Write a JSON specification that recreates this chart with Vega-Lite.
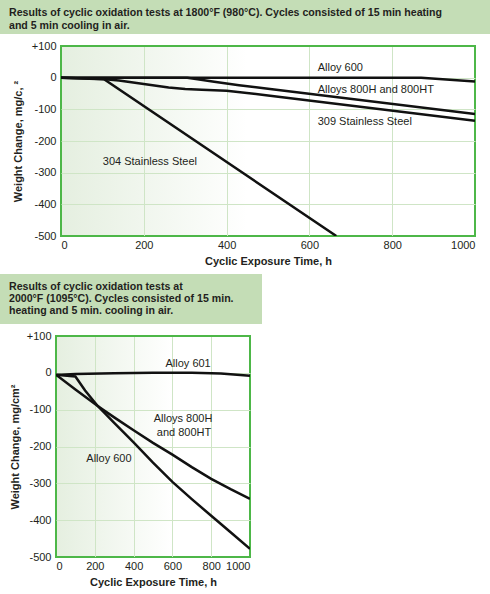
{
  "$schema": "https://vega.github.io/schema/vega-lite/v6.json",
  "padding": 0,
  "background": "#ffffff",
  "spacing": 7,
  "config": {
    "font": "Liberation Sans",
    "view": {"stroke": null},
    "axis": {
      "labelFont": "Liberation Sans",
      "labelFontSize": 11,
      "labelColor": "#231f20",
      "labelOverlap": false,
      "titleFont": "Liberation Sans",
      "titleFontSize": 11,
      "titleFontWeight": "bold",
      "titleColor": "#231f20",
      "gridColor": "#cfe5c6",
      "gridWidth": 1,
      "ticks": false,
      "domain": false
    },
    "title": {"font": "Liberation Sans", "fontSize": 10.6, "fontWeight": "bold", "color": "#231f20"}
  },
  "datasets": {
    "lines1": [
      {"series": "Alloy 600", "t": 0, "w": 0},
      {"series": "Alloy 600", "t": 870, "w": 0},
      {"series": "Alloy 600", "t": 1000, "w": -12},
      {"series": "Alloys 800H and 800HT", "t": 0, "w": 0},
      {"series": "Alloys 800H and 800HT", "t": 305, "w": 0},
      {"series": "Alloys 800H and 800HT", "t": 330, "w": -5},
      {"series": "Alloys 800H and 800HT", "t": 370, "w": -13},
      {"series": "Alloys 800H and 800HT", "t": 430, "w": -24},
      {"series": "Alloys 800H and 800HT", "t": 500, "w": -35},
      {"series": "Alloys 800H and 800HT", "t": 1000, "w": -115},
      {"series": "309 Stainless Steel", "t": 0, "w": 0},
      {"series": "309 Stainless Steel", "t": 100, "w": -4},
      {"series": "309 Stainless Steel", "t": 140, "w": -9},
      {"series": "309 Stainless Steel", "t": 200, "w": -20},
      {"series": "309 Stainless Steel", "t": 260, "w": -31},
      {"series": "309 Stainless Steel", "t": 300, "w": -36},
      {"series": "309 Stainless Steel", "t": 340, "w": -38},
      {"series": "309 Stainless Steel", "t": 400, "w": -41},
      {"series": "309 Stainless Steel", "t": 500, "w": -56},
      {"series": "309 Stainless Steel", "t": 1000, "w": -136},
      {"series": "304 Stainless Steel", "t": 0, "w": 0},
      {"series": "304 Stainless Steel", "t": 104, "w": -5},
      {"series": "304 Stainless Steel", "t": 665, "w": -500}
    ],
    "labels1": [
      {"label": "Alloy 600", "t": 620, "w": 31},
      {"label": "Alloys 800H and 800HT", "t": 620, "w": -39},
      {"label": "309 Stainless Steel", "t": 620, "w": -141},
      {"label": "304 Stainless Steel", "t": 101, "w": -266}
    ],
    "lines2": [
      {"series": "Alloy 601", "t": 0, "w": -6},
      {"series": "Alloy 601", "t": 100, "w": -3},
      {"series": "Alloy 601", "t": 300, "w": -1},
      {"series": "Alloy 601", "t": 500, "w": 0},
      {"series": "Alloy 601", "t": 700, "w": 0},
      {"series": "Alloy 601", "t": 850, "w": -2},
      {"series": "Alloy 601", "t": 1000, "w": -8},
      {"series": "Alloys 800H and 800HT", "t": 0, "w": -5},
      {"series": "Alloys 800H and 800HT", "t": 100, "w": -45},
      {"series": "Alloys 800H and 800HT", "t": 215, "w": -90},
      {"series": "Alloys 800H and 800HT", "t": 300, "w": -121},
      {"series": "Alloys 800H and 800HT", "t": 400, "w": -156},
      {"series": "Alloys 800H and 800HT", "t": 500, "w": -190},
      {"series": "Alloys 800H and 800HT", "t": 600, "w": -222},
      {"series": "Alloys 800H and 800HT", "t": 700, "w": -256},
      {"series": "Alloys 800H and 800HT", "t": 800, "w": -288},
      {"series": "Alloys 800H and 800HT", "t": 900, "w": -316},
      {"series": "Alloys 800H and 800HT", "t": 1000, "w": -342},
      {"series": "Alloy 600", "t": 0, "w": -5},
      {"series": "Alloy 600", "t": 100, "w": -10},
      {"series": "Alloy 600", "t": 150, "w": -48},
      {"series": "Alloy 600", "t": 215, "w": -90},
      {"series": "Alloy 600", "t": 300, "w": -136},
      {"series": "Alloy 600", "t": 400, "w": -189},
      {"series": "Alloy 600", "t": 500, "w": -244},
      {"series": "Alloy 600", "t": 600, "w": -296},
      {"series": "Alloy 600", "t": 700, "w": -343},
      {"series": "Alloy 600", "t": 800, "w": -388},
      {"series": "Alloy 600", "t": 900, "w": -433},
      {"series": "Alloy 600", "t": 1000, "w": -478}
    ],
    "labels2": [
      {"label": "Alloy 601", "t": 681, "w": 25},
      {"label": "Alloys 800H", "t": 655, "w": -126},
      {"label": "and 800HT", "t": 660, "w": -162},
      {"label": "Alloy 600", "t": 273, "w": -234}
    ]
  },
  "vconcat": [
    {
      "spacing": 5,
      "vconcat": [
        {
          "width": 490,
          "height": 34,
          "view": {"fill": "#c4ddb6", "stroke": null},
          "data": {"values": []},
          "mark": "rect",
          "encoding": {},
          "title": {
            "text": ["Results of cyclic oxidation tests at 1800°F (980°C). Cycles consisted of 15 min heating", "and 5 min cooling in air."],
            "anchor": "start",
            "orient": "top",
            "frame": "group",
            "baseline": "top",
            "offset": -32,
            "dx": 9,
            "lineHeight": 13.3
          }
        },
        {
          "spacing": 0,
          "hconcat": [
            {
              "width": 1,
              "height": 1,
              "view": {"fill": null, "stroke": null},
              "data": {"values": []},
              "mark": "rect",
              "encoding": {}
            },
            {
              "width": 414,
              "height": 190,
              "view": {
                "stroke": "#4db748",
                "strokeWidth": 2,
                "fill": {"gradient": "linear", "x1": 0, "y1": 0, "x2": 1, "y2": 0, "stops": [{"offset": 0, "color": "#e5efe0"}, {"offset": 0.45, "color": "#ffffff"}]}
              },
              "layer": [
                {
                  "data": {"name": "lines1"},
                  "mark": {"type": "line", "color": "#111111", "strokeWidth": 2.5, "interpolate": "linear", "clip": true},
                  "encoding": {
                    "x": {"field": "t", "type": "quantitative", "scale": {"domain": [0, 1000], "nice": false},
                      "axis": {"title": "Cyclic Exposure Time, h", "values": [0, 200, 400, 600, 800, 1000], "tickCount": 20, "format": "d", "labelOverlap": false, "labelPadding": 3, "titlePadding": 5,
                        "gridColor": {"condition": {"test": "datum.value == 0 || datum.value == 1000", "value": "#4db748"}, "value": "#cfe5c6"}}},
                    "y": {"field": "w", "type": "quantitative", "scale": {"domain": [-500, 100], "nice": false},
                      "axis": {"title": ["", "Weight Change, mg/c, ²"], "titleLineHeight": 10, "values": [100, 0, -100, -200, -300, -400, -500], "tickCount": 20, "labelOverlap": false,
                        "labelExpr": "datum.value > 0 ? '+' + datum.value : '' + datum.value", "labelPadding": 5, "titlePadding": 8,
                        "gridColor": {"condition": {"test": "datum.value == 100 || datum.value == -500", "value": "#4db748"}, "value": "#cfe5c6"}}},
                    "detail": {"field": "series", "type": "nominal"}
                  }
                },
                {
                  "data": {"name": "labels1"},
                  "mark": {"type": "text", "align": "left", "baseline": "middle", "fontSize": 11, "color": "#231f20", "font": "Liberation Sans"},
                  "encoding": {
                    "x": {"field": "t", "type": "quantitative"},
                    "y": {"field": "w", "type": "quantitative"},
                    "text": {"field": "label"}
                  }
                }
              ]
            }
          ]
        }
      ]
    },
    {
      "spacing": 5,
      "vconcat": [
        {
          "width": 262,
          "height": 50,
          "view": {"fill": "#c4ddb6", "stroke": null},
          "data": {"values": []},
          "mark": "rect",
          "encoding": {},
          "title": {
            "text": ["Results of cyclic oxidation tests at", "2000°F (1095°C). Cycles consisted of 15 min.", "heating and 5 min. cooling in air."],
            "anchor": "start",
            "orient": "top",
            "frame": "group",
            "baseline": "top",
            "offset": -43,
            "dx": 9,
            "lineHeight": 12.3
          }
        },
        {
          "spacing": 0,
          "hconcat": [
            {
              "width": 1,
              "height": 1,
              "view": {"fill": null, "stroke": null},
              "data": {"values": []},
              "mark": "rect",
              "encoding": {}
            },
            {
              "width": 194,
              "height": 221,
              "view": {
                "stroke": "#4db748",
                "strokeWidth": 2,
                "fill": {"gradient": "linear", "x1": 0, "y1": 0, "x2": 1, "y2": 0, "stops": [{"offset": 0, "color": "#e5efe0"}, {"offset": 0.6, "color": "#ffffff"}]}
              },
              "layer": [
                {
                  "data": {"name": "lines2"},
                  "mark": {"type": "line", "color": "#111111", "strokeWidth": 2.5, "interpolate": "linear", "clip": true},
                  "encoding": {
                    "x": {"field": "t", "type": "quantitative", "scale": {"domain": [0, 1000], "nice": false},
                      "axis": {"title": "Cyclic Exposure Time, h", "values": [0, 200, 400, 600, 800, 1000], "tickCount": 20, "format": "d", "labelOverlap": false, "labelPadding": 3, "titlePadding": 5,
                        "gridColor": {"condition": {"test": "datum.value == 0 || datum.value == 1000", "value": "#4db748"}, "value": "#cfe5c6"}}},
                    "y": {"field": "w", "type": "quantitative", "scale": {"domain": [-500, 100], "nice": false},
                      "axis": {"title": ["", "Weight Change, mg/cm²"], "titleLineHeight": 7, "values": [100, 0, -100, -200, -300, -400, -500], "tickCount": 20, "labelOverlap": false,
                        "labelExpr": "datum.value > 0 ? '+' + datum.value : '' + datum.value", "labelPadding": 5, "titlePadding": 6,
                        "gridColor": {"condition": {"test": "datum.value == 100 || datum.value == -500", "value": "#4db748"}, "value": "#cfe5c6"}}},
                    "detail": {"field": "series", "type": "nominal"}
                  }
                },
                {
                  "data": {"name": "labels2"},
                  "mark": {"type": "text", "align": "center", "baseline": "middle", "fontSize": 11, "color": "#231f20", "font": "Liberation Sans"},
                  "encoding": {
                    "x": {"field": "t", "type": "quantitative"},
                    "y": {"field": "w", "type": "quantitative"},
                    "text": {"field": "label"}
                  }
                }
              ]
            }
          ]
        }
      ]
    }
  ]
}
